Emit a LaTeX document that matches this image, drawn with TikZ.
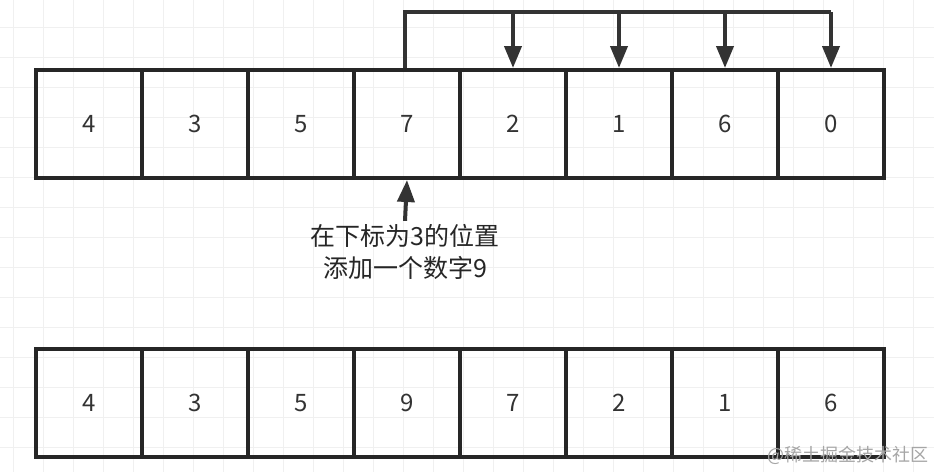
\documentclass[tikz,border=0pt]{standalone}
\usepackage{fontspec}
\setmainfont{Noto Sans CJK SC}
\usetikzlibrary{arrows.meta}
\begin{document}
\begin{tikzpicture}[x=1pt,y=-1pt,
  cell/.style={draw=black!85,line width=4pt,minimum width=106pt,minimum height=108pt,inner sep=0pt,font=\fontsize{24}{24}\selectfont,text=black!80},
  conn/.style={draw=black!80,line width=4pt,-{Triangle[length=22pt,width=17pt]}}]
\useasboundingbox (0,0) rectangle (934,472);
\fill[white] (0,0) rectangle (934,472);
\foreach \x in {13,43,...,934} \draw[black!6,line width=1pt] (\x,0) -- (\x,472);
\foreach \y in {27,57,...,472} \draw[black!6,line width=1pt] (0,\y) -- (934,\y);
\foreach \v [count=\i from 0] in {4,3,5,7,2,1,6,0}
  \node[cell] (t\i) at (89+106*\i,124) {\v};
\foreach \v [count=\i from 0] in {4,3,5,9,7,2,1,6}
  \node[cell] (b\i) at (89+106*\i,403) {\v};
\coordinate (c0) at (405,12);
\draw[draw=black!80,line width=4pt] (t3.north -| c0) -- (c0) -- (c0 -| t7);
\foreach \i in {4,5,6,7} \draw[conn] (c0 -| t\i) -- (t\i.north);
\node[font=\fontsize{25}{32}\selectfont,align=center,text=black!85] (lab) at (405,252) {在下标为3的位置\\添加一个数字9};
\draw[conn] (lab.north) -- (t3.south);
\node[font=\fontsize{18}{18}\selectfont,text=black!35] (wm) at (848,455) {@稀土掘金技术社区};
\end{tikzpicture}
\end{document}
